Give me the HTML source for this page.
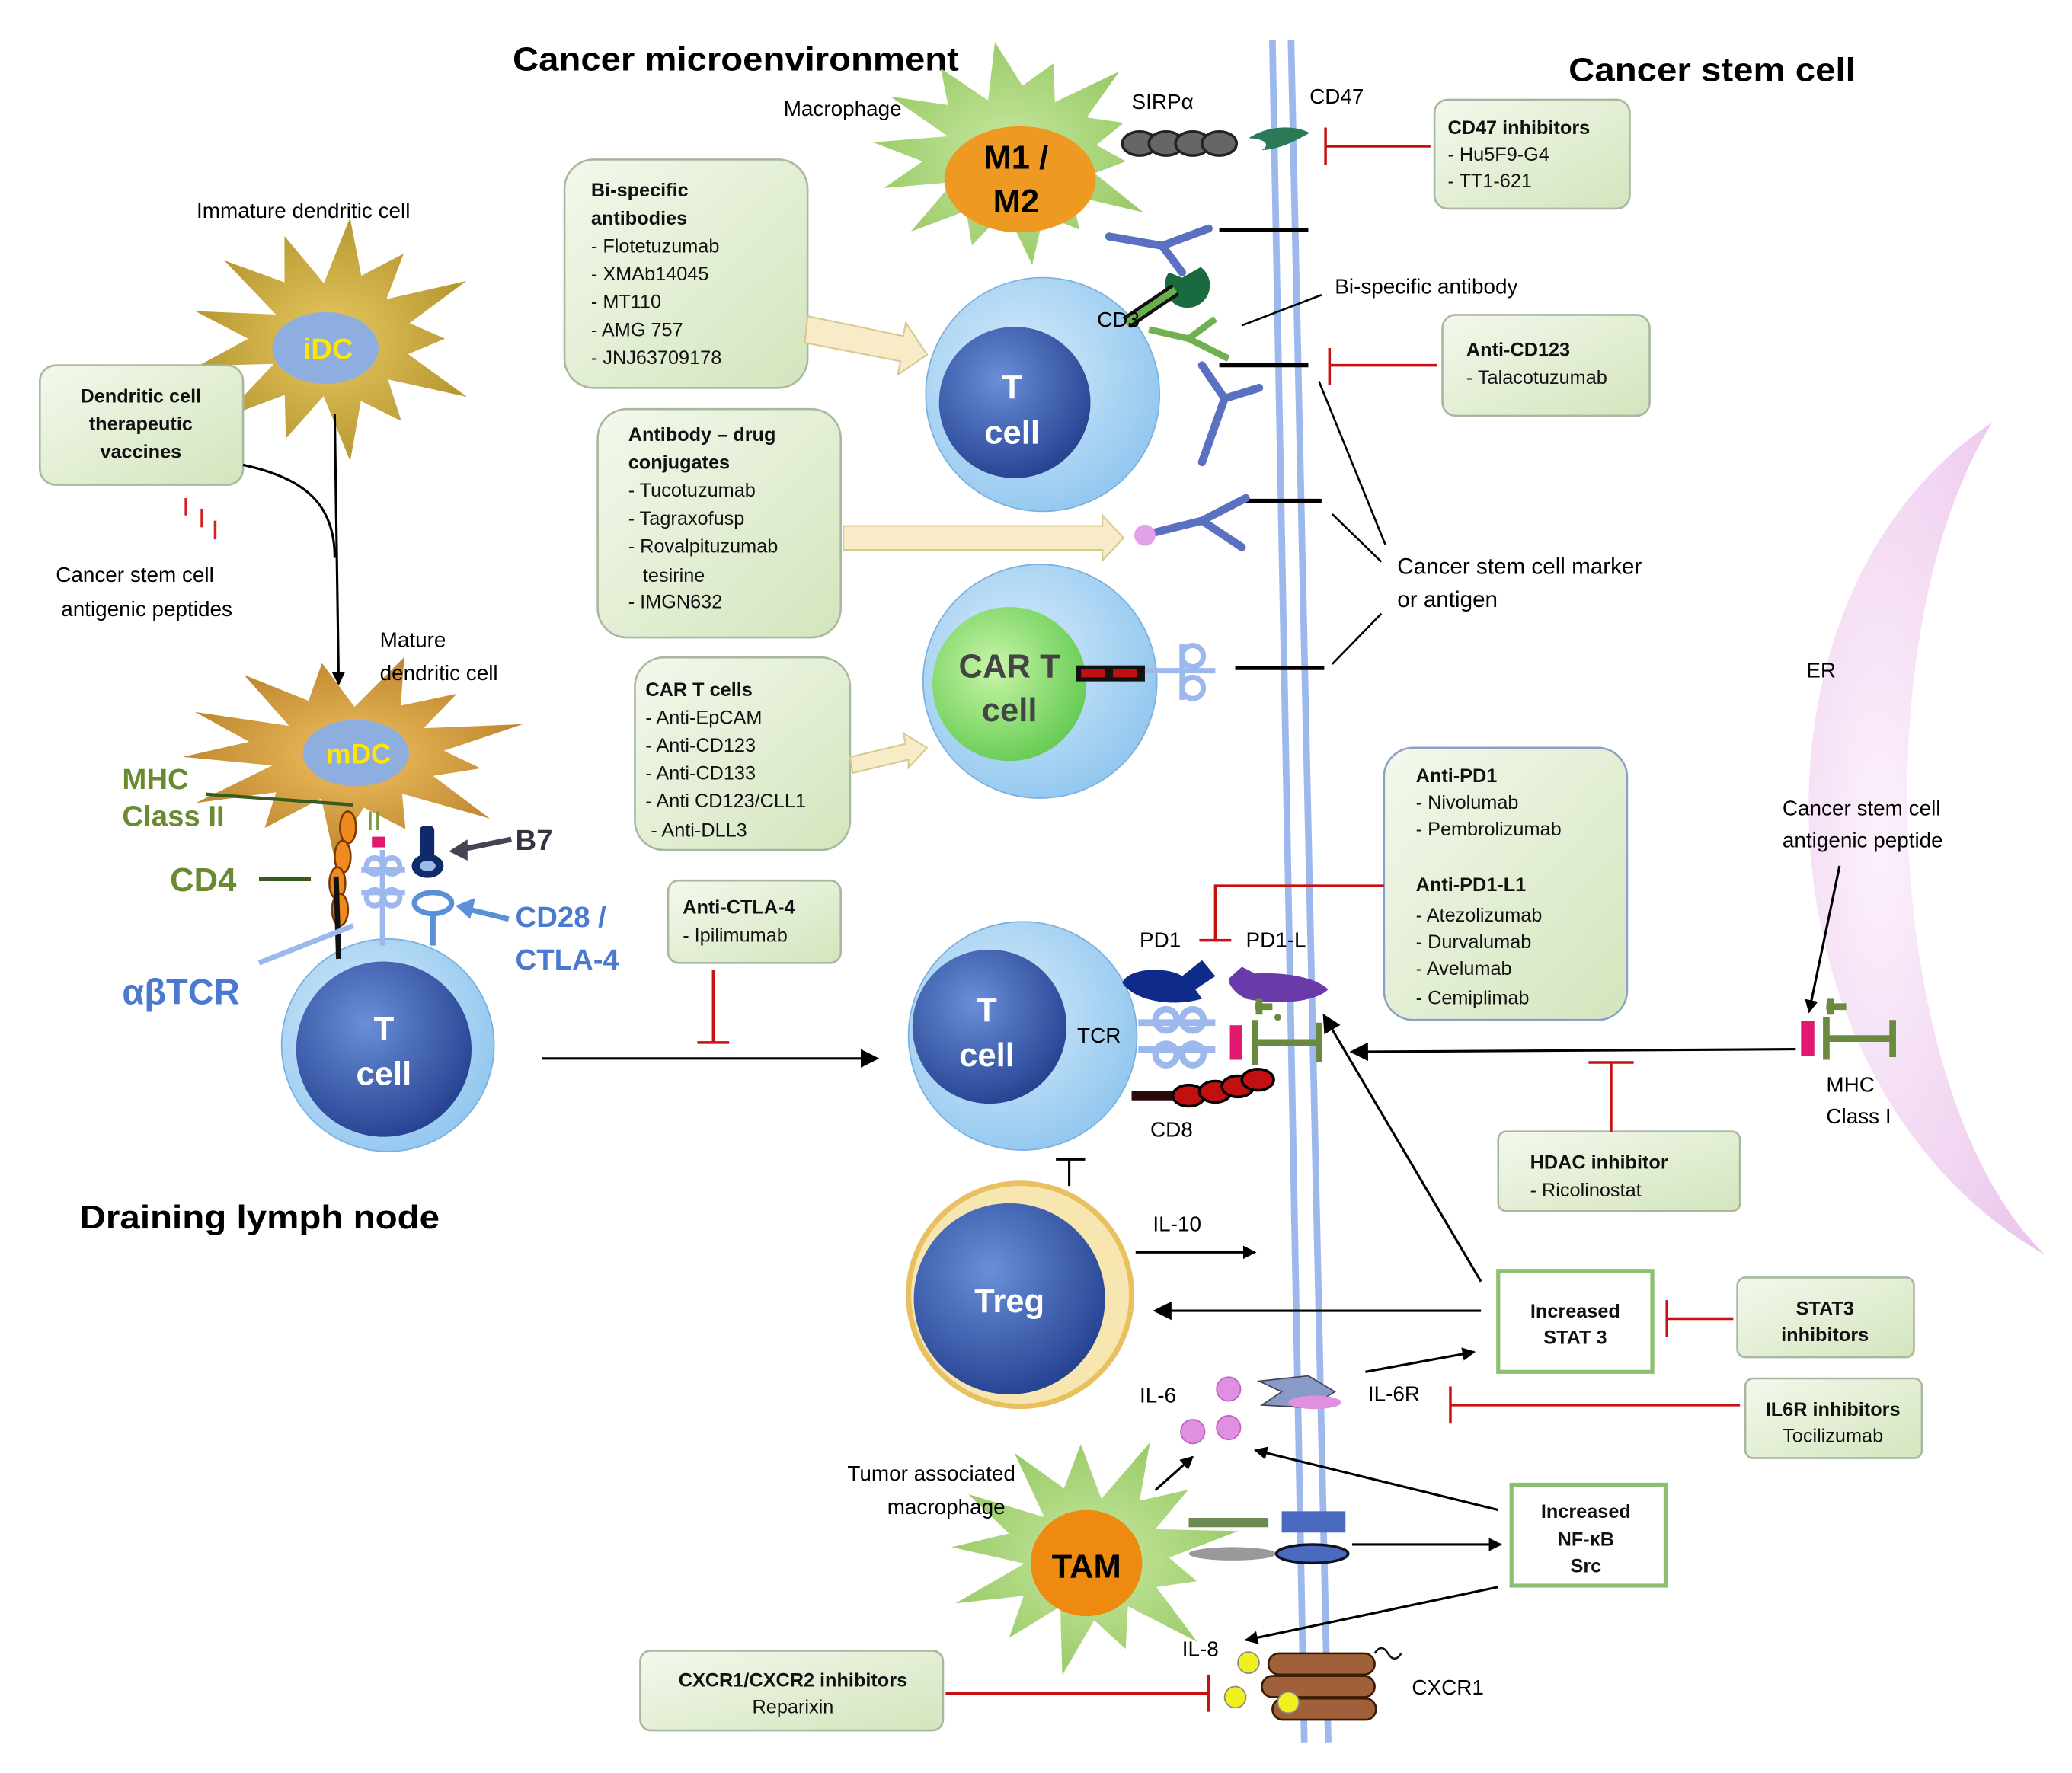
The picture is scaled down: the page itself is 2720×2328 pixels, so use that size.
<!DOCTYPE html>
<html><head><meta charset="utf-8"><style>
html,body{margin:0;padding:0;background:#fff}
svg{display:block}
text{font-family:"Liberation Sans",sans-serif}
</style></head><body>
<svg id="s" width="2720" height="2328" viewBox="0 0 1560 1335" xmlns="http://www.w3.org/2000/svg">
<defs>
<linearGradient id="bx" x1="0" y1="0" x2="1" y2="1"><stop offset="0" stop-color="#f3f8ec"/><stop offset="1" stop-color="#d3e5bd"/></linearGradient>
<radialGradient id="tc" cx="0.4" cy="0.4" r="0.7"><stop offset="0" stop-color="#d8ecfb"/><stop offset="1" stop-color="#8cc4ee"/></radialGradient>
<radialGradient id="tin" cx="0.4" cy="0.35" r="0.7"><stop offset="0" stop-color="#6a8fd8"/><stop offset="1" stop-color="#23408f"/></radialGradient>
<radialGradient id="gr" cx="0.4" cy="0.4" r="0.7"><stop offset="0" stop-color="#c8f5a8"/><stop offset="1" stop-color="#5cc84a"/></radialGradient>
<radialGradient id="er" cx="0.3" cy="0.5" r="0.8"><stop offset="0" stop-color="#fbeefb"/><stop offset="1" stop-color="#e6b6e6"/></radialGradient>
<marker id="a" markerWidth="10" markerHeight="10" refX="9" refY="5" orient="auto" markerUnits="userSpaceOnUse"><path d="M0,0 L10,5 L0,10 z" fill="#000"/></marker>
<marker id="ab" markerWidth="14" markerHeight="14" refX="12" refY="7" orient="auto" markerUnits="userSpaceOnUse"><path d="M0,0 L14,7 L0,14 z" fill="#000"/></marker>
</defs>

<!-- ER -->
<path d="M1500,318 C1300,450 1320,820 1540,945 C1420,830 1400,480 1500,318 z" fill="url(#er)" opacity="0.8"/>
<text x="1360" y="510" font-size="16">ER</text>

<!-- membrane -->
<line x1="958" y1="30" x2="982" y2="1312" stroke="#9cb8ec" stroke-width="5"/>
<line x1="972" y1="30" x2="1000" y2="1312" stroke="#9cb8ec" stroke-width="5"/>

<!-- titles -->
<text x="386" y="53" font-size="25" font-weight="bold" textLength="336" lengthAdjust="spacingAndGlyphs">Cancer microenvironment</text>
<text x="1181" y="61" font-size="25" font-weight="bold" textLength="216" lengthAdjust="spacingAndGlyphs">Cancer stem cell</text>
<text x="60" y="925" font-size="25" font-weight="bold" textLength="271" lengthAdjust="spacingAndGlyphs">Draining lymph node</text>

<g id="stars"></g>

<!-- macrophage -->
<ellipse cx="768" cy="135" rx="57" ry="40" fill="#ee9a22"/>
<text x="765" y="127" font-size="25" font-weight="bold" text-anchor="middle">M1 /</text>
<text x="765" y="160" font-size="25" font-weight="bold" text-anchor="middle">M2</text>
<text x="590" y="87" font-size="16">Macrophage</text>
<!-- iDC / mDC -->
<ellipse cx="245" cy="262" rx="40" ry="27" fill="#8eaee0"/>
<text x="247" y="270" font-size="22" font-weight="bold" fill="#ffe600" text-anchor="middle" font-family="Liberation Serif">iDC</text>
<text x="148" y="164" font-size="16">Immature dendritic cell</text>
<ellipse cx="268" cy="567" rx="40" ry="25" fill="#8eaee0"/>
<text x="270" y="575" font-size="21" font-weight="bold" fill="#ffe600" text-anchor="middle" font-family="Liberation Serif">mDC</text>
<text x="286" y="487" font-size="16">Mature</text>
<text x="286" y="512" font-size="16">dendritic cell</text>
<!-- TAM -->
<ellipse cx="818" cy="1177" rx="42" ry="40" fill="#ee8a10"/>
<text x="818" y="1188" font-size="25" font-weight="bold" text-anchor="middle">TAM</text>
<text x="638" y="1115" font-size="16">Tumor associated</text>
<text x="668" y="1140" font-size="16">macrophage</text>

<!-- boxes -->
<g stroke="#a8b8a0" stroke-width="1.5" fill="url(#bx)">
<rect x="425" y="120" width="183" height="172" rx="22"/>
<rect x="450" y="308" width="183" height="172" rx="22"/>
<rect x="478" y="495" width="162" height="145" rx="22"/>
<rect x="503" y="663" width="130" height="62" rx="8"/>
<rect x="30" y="275" width="153" height="90" rx="12"/>
<rect x="1080" y="75" width="147" height="82" rx="10"/>
<rect x="1086" y="237" width="156" height="76" rx="10"/>
<rect x="1042" y="563" width="183" height="205" rx="22" stroke="#8aa0c8"/>
<rect x="1128" y="852" width="182" height="60" rx="6"/>
<rect x="1308" y="962" width="133" height="60" rx="6"/>
<rect x="1314" y="1038" width="133" height="60" rx="6"/>
<rect x="482" y="1243" width="228" height="60" rx="8"/>
</g>
<rect x="1128" y="957" width="116" height="76" fill="#fff" stroke="#8cc070" stroke-width="3"/>
<rect x="1138" y="1118" width="116" height="76" fill="#fff" stroke="#8cc070" stroke-width="3"/>

<g font-size="14.5" fill="#111">
<text x="445" y="148" font-weight="bold">Bi-specific</text>
<text x="445" y="169" font-weight="bold">antibodies</text>
<text x="445" y="190">- Flotetuzumab</text>
<text x="445" y="211">- XMAb14045</text>
<text x="445" y="232">- MT110</text>
<text x="445" y="253">- AMG 757</text>
<text x="445" y="274">- JNJ63709178</text>

<text x="473" y="332" font-weight="bold">Antibody – drug</text>
<text x="473" y="353" font-weight="bold">conjugates</text>
<text x="473" y="374">- Tucotuzumab</text>
<text x="473" y="395">- Tagraxofusp</text>
<text x="473" y="416">- Rovalpituzumab</text>
<text x="484" y="438">tesirine</text>
<text x="473" y="458">- IMGN632</text>

<text x="486" y="524" font-weight="bold">CAR T cells</text>
<text x="486" y="545">- Anti-EpCAM</text>
<text x="486" y="566">- Anti-CD123</text>
<text x="486" y="587">- Anti-CD133</text>
<text x="486" y="608">- Anti CD123/CLL1</text>
<text x="490" y="630">- Anti-DLL3</text>

<text x="514" y="688" font-weight="bold">Anti-CTLA-4</text>
<text x="514" y="709">- Ipilimumab</text>

<text x="106" y="303" font-weight="bold" text-anchor="middle">Dendritic cell</text>
<text x="106" y="324" font-weight="bold" text-anchor="middle">therapeutic</text>
<text x="106" y="345" font-weight="bold" text-anchor="middle">vaccines</text>

<text x="1090" y="101" font-weight="bold">CD47 inhibitors</text>
<text x="1090" y="121">- Hu5F9-G4</text>
<text x="1090" y="141">- TT1-621</text>

<text x="1104" y="268" font-weight="bold">Anti-CD123</text>
<text x="1104" y="289">- Talacotuzumab</text>

<text x="1066" y="589" font-weight="bold">Anti-PD1</text>
<text x="1066" y="609">- Nivolumab</text>
<text x="1066" y="629">- Pembrolizumab</text>
<text x="1066" y="671" font-weight="bold">Anti-PD1-L1</text>
<text x="1066" y="694">- Atezolizumab</text>
<text x="1066" y="714">- Durvalumab</text>
<text x="1066" y="734">- Avelumab</text>
<text x="1066" y="756">- Cemiplimab</text>

<text x="1152" y="880" font-weight="bold">HDAC inhibitor</text>
<text x="1152" y="901">- Ricolinostat</text>

<text x="1186" y="992" font-weight="bold" text-anchor="middle">Increased</text>
<text x="1186" y="1012" font-weight="bold" text-anchor="middle">STAT 3</text>
<text x="1374" y="990" font-weight="bold" text-anchor="middle">STAT3</text>
<text x="1374" y="1010" font-weight="bold" text-anchor="middle">inhibitors</text>
<text x="1380" y="1066" font-weight="bold" text-anchor="middle">IL6R inhibitors</text>
<text x="1380" y="1086" text-anchor="middle">Tocilizumab</text>
<text x="1194" y="1143" font-weight="bold" text-anchor="middle">Increased</text>
<text x="1194" y="1164" font-weight="bold" text-anchor="middle">NF-κB</text>
<text x="1194" y="1184" font-weight="bold" text-anchor="middle">Src</text>
<text x="597" y="1270" font-weight="bold" text-anchor="middle">CXCR1/CXCR2 inhibitors</text>
<text x="597" y="1290" text-anchor="middle">Reparixin</text>
</g>

<!-- cells -->
<circle cx="785" cy="297" r="88" fill="url(#tc)" stroke="#7ab0e0"/>
<circle cx="764" cy="303" r="57" fill="url(#tin)"/>
<text x="762" y="300" font-size="25" font-weight="bold" fill="#fff" text-anchor="middle">T</text>
<text x="762" y="334" font-size="25" font-weight="bold" fill="#fff" text-anchor="middle">cell</text>

<circle cx="783" cy="513" r="88" fill="url(#tc)" stroke="#7ab0e0"/>
<circle cx="760" cy="515" r="58" fill="url(#gr)"/>
<text x="760" y="510" font-size="25" font-weight="bold" fill="#444" text-anchor="middle">CAR T</text>
<text x="760" y="543" font-size="25" font-weight="bold" fill="#444" text-anchor="middle">cell</text>

<circle cx="292" cy="787" r="80" fill="url(#tc)" stroke="#7ab0e0"/>
<circle cx="289" cy="790" r="66" fill="url(#tin)"/>
<text x="289" y="783" font-size="25" font-weight="bold" fill="#fff" text-anchor="middle">T</text>
<text x="289" y="817" font-size="25" font-weight="bold" fill="#fff" text-anchor="middle">cell</text>

<circle cx="770" cy="780" r="86" fill="url(#tc)" stroke="#7ab0e0"/>
<circle cx="745" cy="773" r="58" fill="url(#tin)"/>
<text x="743" y="769" font-size="25" font-weight="bold" fill="#fff" text-anchor="middle">T</text>
<text x="743" y="803" font-size="25" font-weight="bold" fill="#fff" text-anchor="middle">cell</text>
<text x="811" y="785" font-size="16">TCR</text>

<circle cx="768" cy="975" r="84" fill="#f7e6b0" stroke="#e8c060" stroke-width="4"/>
<circle cx="760" cy="978" r="72" fill="url(#tin)"/>
<text x="760" y="988" font-size="25" font-weight="bold" fill="#fff" text-anchor="middle">Treg</text>

<!-- block arrows -->
<g fill="#f8ecc8" stroke="#d8c890" stroke-width="1.2">
<path d="M608,238 L680,253 L682,243 L698,267 L676,282 L678,272 L606,258 z"/>
<path d="M635,396 L830,396 L830,388 L846,405 L830,422 L830,414 L635,414 z"/>
<path d="M640,570 L682,560 L680,552 L698,563 L684,578 L684,572 L642,582 z"/>
</g>

<!-- receptors on membrane -->
<g stroke="#000" stroke-width="3">
<line x1="918" y1="173" x2="985" y2="173"/>
<line x1="918" y1="275" x2="985" y2="275"/>
<line x1="930" y1="377" x2="995" y2="377"/>
<line x1="930" y1="503" x2="997" y2="503"/>
</g>
<!-- SIRPa / CD47 -->
<g fill="#666" stroke="#222" stroke-width="2">
<ellipse cx="858" cy="108" rx="13" ry="9"/><ellipse cx="878" cy="108" rx="13" ry="9"/><ellipse cx="898" cy="108" rx="13" ry="9"/><ellipse cx="918" cy="108" rx="13" ry="9"/>
</g>
<path d="M940,104 C955,94 975,94 986,100 C975,106 965,112 950,113 C958,108 950,104 940,104 z" fill="#2a7a5a"/>
<text x="852" y="82" font-size="16">SIRPα</text>
<text x="986" y="78" font-size="16">CD47</text>
<!-- Y antibodies -->
<g stroke="#5a70c0" stroke-width="6" fill="none" stroke-linecap="round">
<path d="M835,178 L875,185 L910,172 M875,185 L890,205"/>
<path d="M905,275 L922,300 L905,348 M922,300 L948,292"/>
<path d="M865,402 L905,392 L938,375 M905,392 L935,412"/>
</g>
<!-- bispecific -->
<path d="M880,205 a17,17 0 1,0 24,-4 l-14,8 z" fill="#1a6a40"/>
<line x1="848" y1="243" x2="885" y2="218" stroke="#111" stroke-width="10"/>
<line x1="848" y1="243" x2="885" y2="218" stroke="#6ab04a" stroke-width="5"/>
<g stroke="#70b050" stroke-width="5" fill="none"><path d="M865,248 L895,255 L925,270 M895,255 L915,240"/></g>
<text x="826" y="246" font-size="16">CD3</text>
<text x="1005" y="221" font-size="16">Bi-specific antibody</text>
<circle cx="862" cy="403" r="8" fill="#e4a0e8"/>
<!-- CAR -->
<rect x="810" y="501" width="52" height="12" fill="#111"/>
<rect x="814" y="504" width="18" height="6" fill="#c01010"/><rect x="838" y="504" width="18" height="6" fill="#c01010"/>
<g fill="none" stroke="#9cb8ec" stroke-width="4"><line x1="862" y1="505" x2="915" y2="505"/><circle cx="898" cy="494" r="8"/><circle cx="898" cy="518" r="8"/><line x1="890" y1="485" x2="890" y2="527"/></g>

<text x="1052" y="432" font-size="17">Cancer stem cell marker</text>
<text x="1052" y="457" font-size="17">or antigen</text>
<g stroke="#000" stroke-width="1.5">
<line x1="995" y1="222" x2="935" y2="245"/>
<line x1="1043" y1="410" x2="993" y2="287"/>
<line x1="1040" y1="423" x2="1003" y2="387"/>
<line x1="1040" y1="462" x2="1003" y2="500"/>
</g>

<!-- center T cell receptors -->
<path d="M845,740 C850,728 880,728 890,735 L905,723 L915,735 L900,745 L905,752 C885,758 855,755 845,740 z" fill="#0e2a8a"/>
<path d="M925,737 L935,728 L945,733 C965,732 990,735 1000,745 C990,755 960,757 938,752 C930,748 925,742 925,737 z" fill="#6a3aaa"/>
<text x="858" y="713" font-size="16">PD1</text>
<text x="938" y="713" font-size="16">PD1-L</text>
<g fill="none" stroke="#9cb8ec" stroke-width="5"><line x1="857" y1="770" x2="915" y2="770"/><line x1="857" y1="790" x2="915" y2="790"/><circle cx="878" cy="768" r="8"/><circle cx="898" cy="768" r="8"/><circle cx="878" cy="794" r="8"/><circle cx="898" cy="794" r="8"/></g>
<rect x="926" y="772" width="9" height="26" fill="#e01870"/>
<g fill="none" stroke="#6a8a40" stroke-width="5"><path d="M945,785 L993,785 M945,768 L945,802 M993,770 L993,800"/><path d="M945,758 L958,758 M948,752 L948,764"/></g>
<circle cx="962" cy="766" r="2.5" fill="#6a8a40"/>
<line x1="852" y1="825" x2="900" y2="825" stroke="#2a0a0a" stroke-width="7"/>
<g fill="#c01010" stroke="#000" stroke-width="2"><ellipse cx="895" cy="825" rx="12" ry="8"/><ellipse cx="915" cy="822" rx="12" ry="8"/><ellipse cx="932" cy="818" rx="12" ry="8"/><ellipse cx="947" cy="813" rx="12" ry="8"/></g>
<text x="866" y="856" font-size="16">CD8</text>

<!-- right MHC I -->
<rect x="1356" y="769" width="10" height="26" fill="#e01870"/>
<g fill="none" stroke="#6a8a40" stroke-width="5"><path d="M1375,782 L1425,782 M1375,766 L1375,798 M1425,768 L1425,796"/><path d="M1375,758 L1390,758 M1378,752 L1378,764"/></g>
<text x="1375" y="822" font-size="16">MHC</text>
<text x="1375" y="846" font-size="16">Class I</text>
<text x="1342" y="614" font-size="16">Cancer stem cell</text>
<text x="1342" y="638" font-size="16">antigenic peptide</text>

<!-- left T cell receptors -->
<g fill="#ee8a20" stroke="#7a3a00" stroke-width="1.5"><ellipse cx="262" cy="623" rx="6" ry="12"/><ellipse cx="258" cy="645" rx="6" ry="12"/><ellipse cx="254" cy="665" rx="6" ry="12"/><ellipse cx="256" cy="685" rx="6" ry="12"/></g>
<line x1="253" y1="660" x2="255" y2="722" stroke="#111" stroke-width="4"/>
<rect x="280" y="630" width="10" height="8" fill="#e01870"/>
<text x="276" y="625" font-size="20" fill="#7a9a40" font-family="Liberation Serif">II</text>
<g fill="none" stroke="#9cb8ec" stroke-width="4"><line x1="272" y1="655" x2="305" y2="655"/><line x1="272" y1="672" x2="305" y2="672"/><circle cx="282" cy="652" r="6"/><circle cx="295" cy="652" r="6"/><circle cx="282" cy="676" r="6"/><circle cx="295" cy="676" r="6"/><line x1="288" y1="640" x2="288" y2="712"/></g>
<ellipse cx="322" cy="652" rx="12" ry="9" fill="#0e2a6a"/><ellipse cx="322" cy="652" rx="6" ry="4" fill="#9cb8ec"/>
<rect x="316" y="622" width="11" height="25" rx="3" fill="#0e2a6a"/>
<ellipse cx="326" cy="680" rx="14" ry="8" fill="none" stroke="#5a90d8" stroke-width="4"/>
<line x1="326" y1="688" x2="326" y2="712" stroke="#5a90d8" stroke-width="4"/>
<text x="92" y="594" font-size="22" font-weight="bold" fill="#6a8a30">MHC</text>
<text x="92" y="622" font-size="22" font-weight="bold" fill="#6a8a30">Class II</text>
<text x="128" y="671" font-size="25" font-weight="bold" fill="#6a8a30">CD4</text>
<text x="92" y="756" font-size="27" font-weight="bold" fill="#4a7ad0">αβTCR</text>
<text x="388" y="640" font-size="22" font-weight="bold" fill="#334">B7</text>
<text x="388" y="698" font-size="22" font-weight="bold" fill="#4a7ad0">CD28 /</text>
<text x="388" y="730" font-size="22" font-weight="bold" fill="#4a7ad0">CTLA-4</text>
<line x1="155" y1="598" x2="266" y2="606" stroke="#3a5a20" stroke-width="2.5"/>
<line x1="195" y1="662" x2="234" y2="662" stroke="#3a5a20" stroke-width="3"/>
<line x1="195" y1="725" x2="266" y2="697" stroke="#9cb8ec" stroke-width="4"/>
<line x1="385" y1="632" x2="345" y2="640" stroke="#445" stroke-width="4"/><path d="M338,641 L352,632 L352,648 z" fill="#445"/>
<line x1="383" y1="692" x2="350" y2="684" stroke="#5a90d8" stroke-width="4"/><path d="M343,682 L358,676 L354,692 z" fill="#5a90d8"/>

<!-- Treg area -->
<text x="868" y="927" font-size="16">IL-10</text>
<text x="858" y="1056" font-size="16">IL-6</text>
<g fill="#e090e0" stroke="#c060c0"><circle cx="925" cy="1046" r="9"/><circle cx="898" cy="1078" r="9"/><circle cx="925" cy="1075" r="9"/></g>
<path d="M948,1040 L985,1036 L1005,1048 L985,1060 L950,1058 L965,1048 z" fill="#8a9ac8" stroke="#445"/>
<ellipse cx="990" cy="1056" rx="20" ry="5" fill="#e090e0"/>
<text x="1030" y="1055" font-size="16">IL-6R</text>
<!-- TAM receptors -->
<rect x="895" y="1143" width="60" height="7" fill="#6a8a50"/>
<ellipse cx="928" cy="1170" rx="33" ry="5" fill="#999"/>
<rect x="965" y="1138" width="48" height="16" fill="#4a6ac0"/>
<ellipse cx="988" cy="1170" rx="27" ry="7" fill="#4a6ac0" stroke="#112" stroke-width="2"/>
<!-- CXCR1 -->
<g fill="#a0603a" stroke="#3a1a00" stroke-width="1.5">
<rect x="955" y="1245" width="80" height="16" rx="8"/><rect x="950" y="1262" width="85" height="16" rx="8"/><rect x="958" y="1279" width="78" height="16" rx="8"/></g>
<path d="M1035,1245 q5,-8 10,0 q5,8 10,0" fill="none" stroke="#111" stroke-width="1.5"/>
<text x="1063" y="1276" font-size="16">CXCR1</text>
<text x="890" y="1247" font-size="16">IL-8</text>
<g fill="#f0f020" stroke="#888"><circle cx="940" cy="1252" r="8"/><circle cx="930" cy="1278" r="8"/><circle cx="970" cy="1282" r="8"/></g>

<text x="42" y="438" font-size="16">Cancer stem cell</text>
<text x="46" y="464" font-size="16">antigenic peptides</text>
<g stroke="#d02020" stroke-width="2"><line x1="140" y1="375" x2="140" y2="388"/><line x1="152" y1="383" x2="152" y2="397"/><line x1="162" y1="392" x2="162" y2="406"/></g>

<!-- red inhibition -->
<g stroke="#c81010" stroke-width="2" fill="none">
<path d="M1077,110 L998,110 M998,96 L998,124"/>
<path d="M1082,275 L1001,275 M1001,262 L1001,290"/>
<path d="M1042,667 L915,667 L915,708 M903,708 L927,708"/>
<path d="M537,730 L537,785 M525,785 L549,785"/>
<path d="M1213,852 L1213,800 M1196,800 L1230,800"/>
<path d="M1305,993 L1255,993 M1255,979 L1255,1007"/>
<path d="M1310,1058 L1092,1058 M1092,1044 L1092,1072"/>
<path d="M712,1275 L910,1275 M910,1261 L910,1289"/>
</g>
<!-- black arrows -->
<g stroke="#000" stroke-width="1.8" fill="none">
<path d="M183,350 C230,360 252,380 252,420"/>
<line x1="252" y1="312" x2="255" y2="515" marker-end="url(#a)"/>
<line x1="408" y1="797" x2="660" y2="797" marker-end="url(#ab)"/>
<line x1="1352" y1="790" x2="1018" y2="792" marker-end="url(#ab)"/>
<line x1="1115" y1="965" x2="997" y2="765" marker-end="url(#ab)"/>
<line x1="1115" y1="987" x2="870" y2="987" marker-end="url(#ab)"/>
<line x1="855" y1="943" x2="945" y2="943" marker-end="url(#a)"/>
<line x1="1028" y1="1033" x2="1110" y2="1018" marker-end="url(#a)"/>
<line x1="1128" y1="1137" x2="945" y2="1092" marker-end="url(#a)"/>
<line x1="1018" y1="1163" x2="1130" y2="1163" marker-end="url(#a)"/>
<line x1="1128" y1="1195" x2="938" y2="1235" marker-end="url(#a)"/>
<line x1="870" y1="1122" x2="898" y2="1097" marker-end="url(#a)"/>
<line x1="1385" y1="652" x2="1362" y2="762" marker-end="url(#a)"/>
<path d="M805,893 L805,873 M795,873 L817,873"/>
</g>
</svg>
<script>
(function(){
var g=document.getElementById('stars');
function star(cx,cy,rx,ry,n,inner,col1,col2,rot){
 var p=[];for(var i=0;i<n*2;i++){var a=Math.PI*i/n+(rot||0);var f=(i%2?inner:1)*(0.85+0.3*Math.abs(Math.sin(i*2.3)));p.push((cx+Math.cos(a)*rx*f).toFixed(1)+','+(cy+Math.sin(a)*ry*f).toFixed(1));}
 var id='g'+Math.random().toString(36).slice(2);
 g.insertAdjacentHTML('beforeend','<radialGradient id="'+id+'"><stop offset="0" stop-color="'+col1+'"/><stop offset="1" stop-color="'+col2+'"/></radialGradient><polygon points="'+p.join(' ')+'" fill="url(#'+id+')"/>');
}
star(763,115,100,75,14,0.6,'#c8e8a0','#9ccc6a',0.1);
star(250,255,100,82,13,0.55,'#e8c860','#b89830',0);
star(262,567,120,68,13,0.55,'#f0c060','#c08830',0.2);
star(820,1170,100,82,13,0.55,'#c8e8a0','#9ccc6a',0.3);
})();
</script>
</body></html>
